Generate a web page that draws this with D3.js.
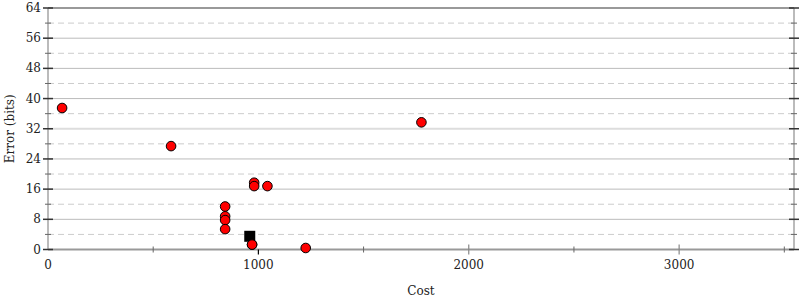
<!DOCTYPE html>
<html>
<head>
<script src="https://d3js.org/d3.v7.min.js"></script>
<style>
  body { margin: 0; background: #fff; }
  text { font-family: "DejaVu Serif", serif; font-size: 12px; fill: #222; }
</style>
</head>
<body>
<svg width="800" height="300"></svg>
<script>
const costs  = [67, 585, 842, 842, 842, 842, 980, 980, 1043, 970, 1225, 1775];
const errors = [37.5, 27.4, 11.4, 8.8, 7.8, 5.4, 17.7, 16.8, 16.8, 1.3, 0.4, 33.7];
const initialCost = [959];
const initialError = [3.5];
const xTicks = [0, 1000, 2000, 3000];
const xMinor = [500, 1500, 2500, 3500];
const yTicks = [0, 8, 16, 24, 32, 40, 48, 56, 64];
const yMinor = [4, 12, 20, 28, 36, 44, 52, 60];

const svg = d3.select("svg");
const mLeft = 48, mRight = 794, mTop = 8, mBottom = 249.5;

const x = d3.scaleLinear().domain([0, 3546]).range([mLeft, mRight]);
const y = d3.scaleLinear().domain([0, 64]).range([mBottom, mTop]);

// grid
svg.selectAll(".gmin").data(yMinor).enter().append("line")
  .attr("x1", mLeft).attr("x2", mRight)
  .attr("y1", d => y(d)).attr("y2", d => y(d))
  .style("stroke", "#ccc").style("stroke-dasharray", "6,4");
svg.selectAll(".gmaj").data(yTicks.filter(d => d > 0 && d < 64)).enter().append("line")
  .attr("x1", mLeft).attr("x2", mRight)
  .attr("y1", d => y(d)).attr("y2", d => y(d))
  .style("stroke", d => d === 32 ? "#ddd" : "#bbb").style("stroke-width", d => d === 32 ? 2 : 1);

// frame
svg.append("line").attr("x1", mLeft).attr("x2", mLeft).attr("y1", mTop).attr("y2", mBottom)
  .style("stroke", "#bbb").style("stroke-width", 2);
svg.append("line").attr("x1", mRight).attr("x2", mRight).attr("y1", mTop).attr("y2", mBottom)
  .style("stroke", "#bbb").style("stroke-width", 2);
svg.append("line").attr("x1", mLeft).attr("x2", mRight).attr("y1", mTop).attr("y2", mTop)
  .style("stroke", "#999").style("stroke-width", 2);
svg.append("line").attr("x1", mLeft).attr("x2", mRight).attr("y1", mBottom).attr("y2", mBottom)
  .style("stroke", "#999").style("stroke-width", 2);

// y ticks both sides
[mLeft, mRight].forEach(px => {
  svg.append("g").selectAll("line").data(yTicks).enter().append("line")
    .attr("x1", px - 5).attr("x2", px + 5)
    .attr("y1", d => y(d)).attr("y2", d => y(d))
    .style("stroke", "#333").style("stroke-width", 1.5);
  svg.append("g").selectAll("line").data(yMinor).enter().append("line")
    .attr("x1", px - 3).attr("x2", px + 3)
    .attr("y1", d => y(d)).attr("y2", d => y(d))
    .style("stroke", "#666");
});
svg.selectAll(".ylab").data(yTicks).enter().append("text")
  .attr("x", mLeft - 7).attr("y", d => y(d) + 4)
  .attr("text-anchor", "end").text(d => d);

// x ticks
svg.selectAll(".xt").data(xTicks.filter(d => d > 0)).enter().append("line")
  .attr("x1", d => x(d)).attr("x2", d => x(d))
  .attr("y1", d => d === 1000 ? mBottom : mBottom - 5).attr("y2", mBottom + 5)
  .style("stroke", d => d === 1000 ? "#000" : "#888").style("stroke-width", 1.2);
svg.selectAll(".xm").data(xMinor).enter().append("line")
  .attr("x1", d => x(d)).attr("x2", d => x(d))
  .attr("y1", mBottom - 3).attr("y2", mBottom + 3)
  .style("stroke", "#666");
svg.selectAll(".xlab").data(xTicks).enter().append("text")
  .attr("x", d => x(d)).attr("y", mBottom + 19)
  .attr("text-anchor", "middle").text(d => d);

svg.append("text").attr("x", (mLeft + mRight) / 2).attr("y", 295)
  .attr("text-anchor", "middle").text("Cost");
svg.append("text").attr("transform", `translate(14,${(mTop + mBottom) / 2}) rotate(-90)`)
  .attr("text-anchor", "middle").text("Error (bits)");

// points
svg.selectAll(".pt").data(costs).enter().append("circle")
  .attr("cx", d => x(d)).attr("cy", (d, i) => y(errors[i])).attr("r", 4.8)
  .style("fill", "#f00").style("stroke", "#000").style("stroke-width", 1);
svg.selectAll(".init").data(initialCost).enter().append("rect")
  .attr("x", d => x(d) - 5.5).attr("y", (d, i) => y(initialError[i]) - 5.5)
  .attr("width", 11).attr("height", 11)
  .style("fill", "#000");
// redraw the point that overlaps the square on top
svg.selectAll(".pt2").data([970]).enter().append("circle")
  .attr("cx", d => x(d)).attr("cy", y(1.3)).attr("r", 4.8)
  .style("fill", "#f00").style("stroke", "#000").style("stroke-width", 1);
</script>
</body>
</html>
